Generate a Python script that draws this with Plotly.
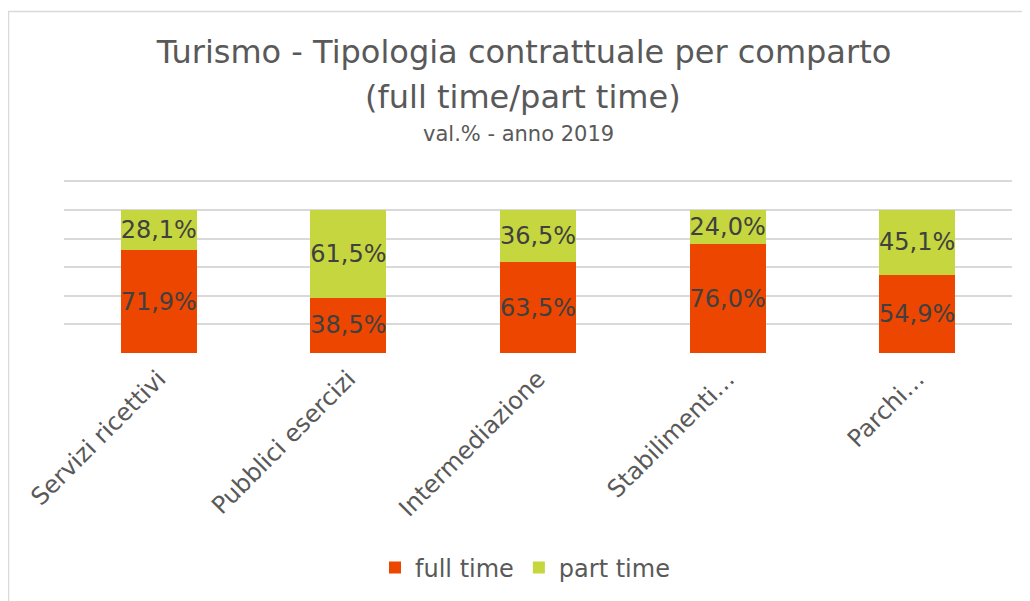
import plotly.graph_objects as go

categories = ["Servizi ricettivi", "Pubblici esercizi", "Intermediazione",
              "Stabilimenti…", "Parchi…"]
full_time = [71.9, 38.5, 63.5, 76.0, 54.9]
part_time = [28.1, 61.5, 36.5, 24.0, 45.1]

FONT = "DejaVu Sans, Verdana, sans-serif"
LBL = "#404040"
TXT = "#595959"

def fmt(v):
    return f"{v:.1f}%".replace(".", ",")

bar_common = dict(textposition="inside", insidetextanchor="middle",
                  constraintext="none", textangle=0,
                  textfont=dict(size=24, color=LBL, family=FONT),
                  hoverinfo="skip")

fig = go.Figure()
fig.add_trace(go.Bar(
    name="full time", x=categories, y=full_time,
    marker=dict(color="#EC4600", line=dict(width=0)),
    text=[fmt(v) for v in full_time], **bar_common))
fig.add_trace(go.Bar(
    name="part time", x=categories, y=part_time,
    marker=dict(color="#C5D63F", line=dict(width=0)),
    text=[fmt(v) for v in part_time], **bar_common))

# page offset (body margin) compensation
OFF = 8
W, H = 1030, 601
L = 64 - OFF
R = W - (1012 - OFF)
B = H - (353 - OFF)
YMAX = 121
ph = 1.43 * YMAX
T = H - B - ph
pw = W - L - R

def px_x(x):
    return (x - OFF - L) / pw

def px_y(y):
    return (H - B - (y - OFF)) / ph

fig.update_layout(
    width=W, height=H,
    margin=dict(l=L, r=R, t=T, b=B, pad=0),
    barmode="stack", bargap=0.6,
    plot_bgcolor="white", paper_bgcolor="white",
    font=dict(family=FONT, color=TXT),
    title=dict(text="Turismo - Tipologia contrattuale per comparto",
               x=px_x(524), xanchor="center", xref="paper",
               y=1 - (52 - OFF) / H, yanchor="middle",
               font=dict(size=32, color=TXT, family=FONT)),
    showlegend=True,
    legend=dict(orientation="h", x=px_x(525), xanchor="center",
                y=px_y(568), yanchor="middle",
                font=dict(size=24, color=TXT, family=FONT),
                itemwidth=30, traceorder="normal"),
    xaxis=dict(tickangle=-45, tickfont=dict(size=24, color=TXT, family=FONT),
               ticklabelstandoff=6,
               showgrid=False, showline=False, ticks="", zeroline=False),
    yaxis=dict(range=[0, YMAX], tick0=0, dtick=20, showticklabels=False,
               showgrid=True, gridcolor="#D9D9D9", gridwidth=1.5,
               zeroline=False, showline=False, ticks=""),
    annotations=[
        dict(text="(full time/part time)", xref="paper", yref="paper",
             x=px_x(523), y=px_y(97), xanchor="center", yanchor="middle",
             showarrow=False, font=dict(size=32, color=TXT, family=FONT)),
        dict(text="val.% - anno 2019", xref="paper", yref="paper",
             x=px_x(518), y=px_y(134), xanchor="center", yanchor="middle",
             showarrow=False, font=dict(size=21, color=TXT, family=FONT)),
    ],
    shapes=[
        dict(type="rect", xref="paper", yref="paper",
             x0=px_x(8.5), x1=px_x(1100), y0=px_y(700), y1=px_y(11.5),
             line=dict(color="#D9D9D9", width=1.5), fillcolor="rgba(0,0,0,0)",
             layer="below"),
    ],
)

fig.write_html("out.html")
